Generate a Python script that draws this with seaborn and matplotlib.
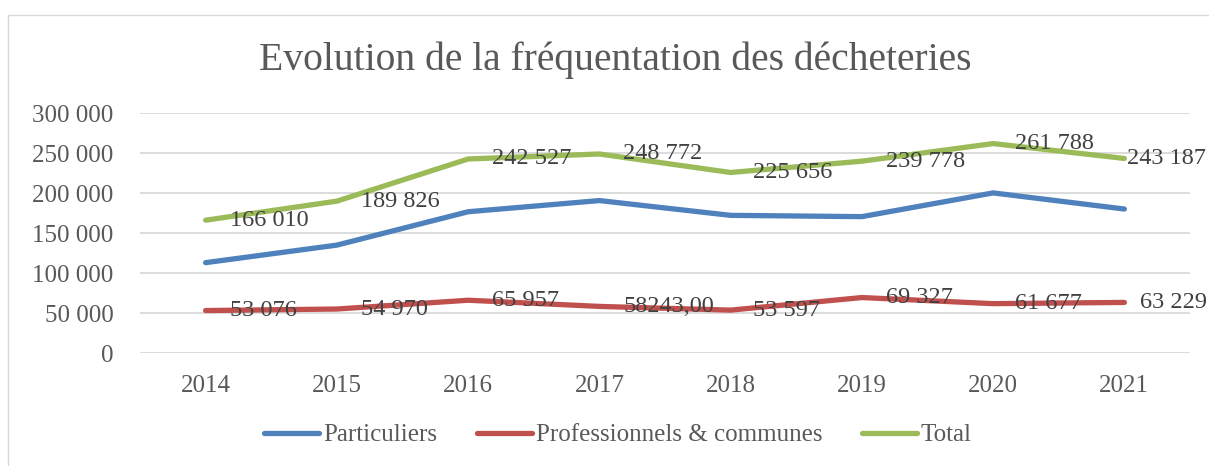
import matplotlib
matplotlib.use("Agg")
import matplotlib.pyplot as plt
import matplotlib.ticker as mticker
import pandas as pd
import seaborn as sns

years = [2014, 2015, 2016, 2017, 2018, 2019, 2020, 2021]
particuliers = [112934, 134856, 176570, 190529, 172059, 170451, 200111, 179958]
professionnels = [53076, 54970, 65957, 58243, 53597, 69327, 61677, 63229]
total = [166010, 189826, 242527, 248772, 225656, 239778, 261788, 243187]
pro_labels = ["53 076", "54 970", "65 957", "58243,00", "53 597", "69 327", "61 677", "63 229"]
total_labels = ["166 010", "189 826", "242 527", "248 772", "225 656", "239 778", "261 788", "243 187"]
series_names = ["Particuliers", "Professionnels & communes", "Total"]
colors = ["#4F81BD", "#C0504D", "#9BBB59"]

df = pd.DataFrame({
    "Année": years * 3,
    "Valeur": particuliers + professionnels + total,
    "Série": [series_names[0]] * 8 + [series_names[1]] * 8 + [series_names[2]] * 8,
})

sns.set_style("white")
plt.rcParams["font.family"] = ["Liberation Serif", "DejaVu Serif"]

fig = plt.figure(figsize=(12.09, 4.66), dpi=100)
ax = fig.add_axes([140 / 1209, 113 / 466, 1050 / 1209, 240 / 466])

sns.lineplot(data=df, x="Année", y="Valeur", hue="Série", palette=colors,
             linewidth=3.8, ax=ax, legend=True, solid_capstyle="round")

ax.set_xlim(2013.5, 2021.5)
ax.set_ylim(0, 300000)
ax.set_xticks(years)
ax.set_yticks(range(0, 300001, 50000))
ax.yaxis.set_major_formatter(mticker.FuncFormatter(lambda v, p: f"{int(v):,}".replace(",", " ")))
ax.grid(axis="y", color="#D9D9D9", linewidth=1.3)
ax.set_axisbelow(True)
for s in ax.spines.values():
    s.set_visible(False)
ax.tick_params(axis="both", length=0, labelsize=18, labelcolor="#595959")
ax.tick_params(axis="x", pad=16)
ax.tick_params(axis="y", pad=19)
ax.set_xlabel("")
ax.set_ylabel("")

# étiquettes de données
dx_tot = [24, 24, 24, 24, 22, 24, 22, 3]
dx_pro = [24, 24, 24, 24, 22, 24, 22, 16]
for i, y in enumerate(years):
    ax.annotate(total_labels[i], (y, total[i]), xytext=(dx_tot[i], 0), textcoords="offset pixels",
                ha="left", va="center", fontsize=17.5, color="#404040", annotation_clip=False)
    ax.annotate(pro_labels[i], (y, professionnels[i]), xytext=(dx_pro[i], 0), textcoords="offset pixels",
                ha="left", va="center", fontsize=17.5, color="#404040", annotation_clip=False)

fig.text(615 / 1209, 1 - 60 / 466, "Evolution de la fréquentation des décheteries",
         ha="center", va="center", fontsize=28.5, color="#595959")

handles, labels = ax.get_legend_handles_labels()
ax.legend(handles, labels, loc="center", bbox_to_anchor=(618 / 1209, 1 - 435 / 466),
          bbox_transform=fig.transFigure, ncol=3, frameon=False, fontsize=18,
          labelcolor="#595959", handlelength=2.2, handletextpad=0.15, columnspacing=1.6)

fig.add_artist(plt.Rectangle((8 / 1209, -0.1), 1.2, 1.1 - 15 / 466, transform=fig.transFigure,
                             fill=False, edgecolor="#D9D9D9", linewidth=1))

fig.savefig("out.png", dpi=100)
